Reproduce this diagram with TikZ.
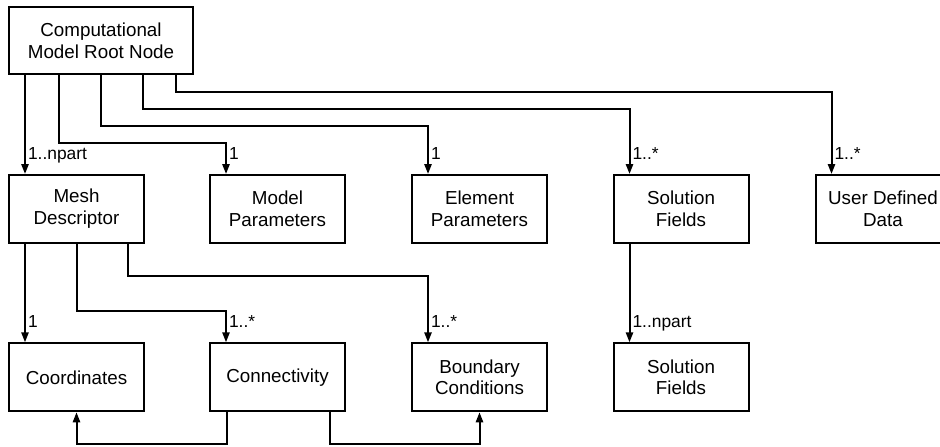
\documentclass[tikz,border=0pt]{standalone}
\usepackage{fontspec}
\setmainfont{Liberation Sans}
\usetikzlibrary{calc,arrows.meta}

\begin{document}
\begin{tikzpicture}[x=0.5pt,y=-0.5pt,
  box/.style={draw, line width=1pt, minimum width=67.5pt, minimum height=34pt,
    align=center, inner sep=1pt, font=\fontsize{9.4}{10.9}\selectfont},
  link/.style={line width=1pt, -{Triangle[length=5pt,width=3.6pt]}},
  card/.style={anchor=base west, inner sep=0pt, xshift=1pt, yshift=7.5pt,
    font=\fontsize{8.7}{10}\selectfont}]
\clip (0,0) rectangle (940,446);

% Root of the model
\node[box, minimum width=92pt, minimum height=33.5pt] (root) at (101,40.5) {Computational\\Model Root Node};

% Second level
\node[box] (mesh) at (76.5,209) {Mesh\\Descriptor};
\node[box] (model) at (277.5,209) {Model\\Parameters};
\node[box] (elem) at (479.5,209) {Element\\Parameters};
\node[box] (sol) at (681,209) {Solution\\Fields};
\node[box] (user) at (883,209) {User Defined\\Data};

% Third level
\node[box] (coord) at (76.5,377.3) {Coordinates};
\node[box] (conn) at (277.5,377.3) {Connectivity};
\node[box] (bc) at (479.5,377.3) {Boundary\\Conditions};
\node[box] (solpart) at (681,377.3) {Solution\\Fields};

% Links from the root
\draw[link] ($(root.south west)+(17,0)$) -- ($(mesh.north west)+(17,0)$) node[card] {1..npart};
\draw[link] ($(root.south west)+(51,0)$) -- ++(0,68) -| ($(model.north west)+(17,0)$) node[card] {1};
\draw[link] ($(root.south west)+(92.7,0)$) -- ++(0,51) -| ($(elem.north west)+(17,0)$) node[card] {1};
\draw[link] ($(root.south west)+(135,0)$) -- ++(0,34) -| ($(sol.north west)+(17,0)$) node[card] {1..*};
\draw[link] ($(root.south west)+(168,0)$) -- ++(0,17) -| ($(user.north west)+(17,0)$) node[card] {1..*};

% Links from the mesh
\draw[link] ($(mesh.south west)+(17,0)$) -- ($(coord.north west)+(17,0)$) node[card] {1};
\draw[link] (mesh.south) -- ++(0,67) -| ($(conn.north west)+(17,0)$) node[card] {1..*};
\draw[link] ($(mesh.south east)+(-17,0)$) -- ++(0,32) -| ($(bc.north west)+(17,0)$) node[card] {1..*};

% Solution fields per part
\draw[link] ($(sol.south west)+(17,0)$) -- ($(solpart.north west)+(17,0)$) node[card] {1..npart};

% Connectivity refers back
\draw[link] ($(conn.south west)+(18,0)$) -- ++(0,32) -| (coord.south);
\draw[link] ($(conn.south east)+(-16,0)$) -- ++(0,32) -| (bc.south);
\end{tikzpicture}
\end{document}
